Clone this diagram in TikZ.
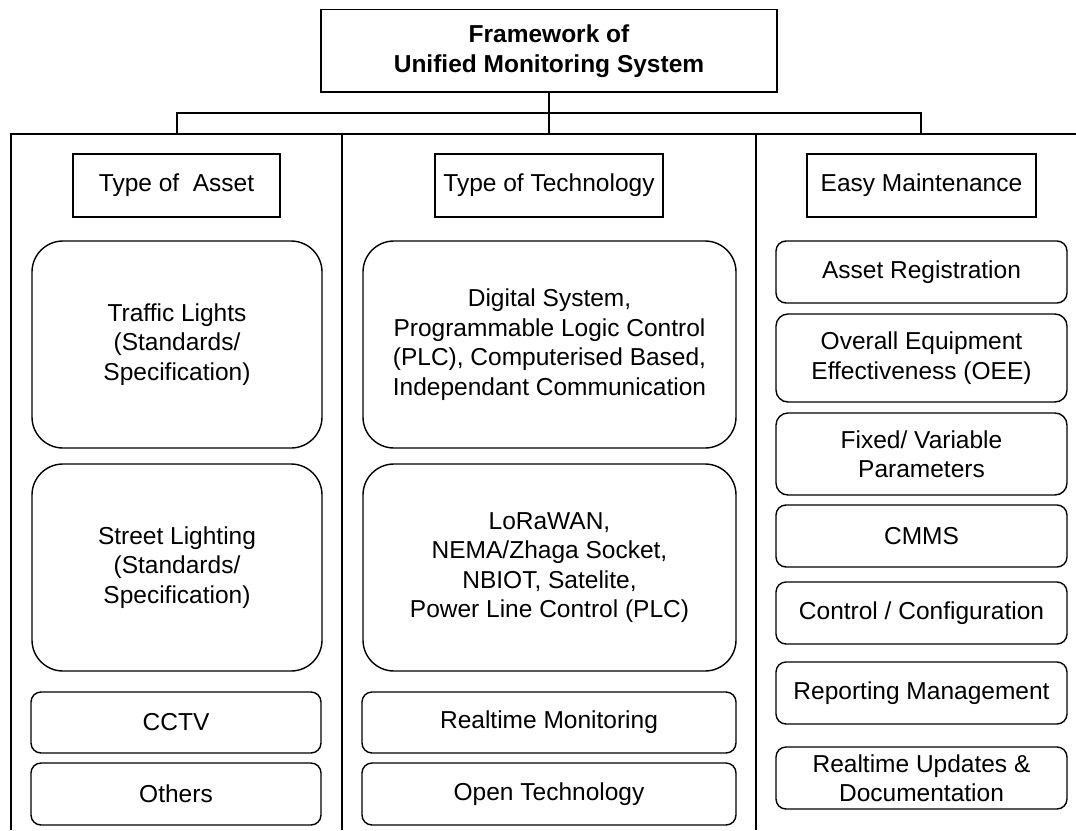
\documentclass[tikz,border=0pt]{standalone}
\usepackage{fontspec}
\setmainfont{Liberation Sans}
\begin{document}
\begin{tikzpicture}[x=1pt,y=-1pt,
  every node/.style={font={\fontsize{24.5pt}{29.5pt}\selectfont}, align=center, inner sep=2pt},
  frame/.style={line width=1.4pt},
  sqbox/.style={draw, line width=1.4pt, rectangle, minimum height=63pt},
  bigbox/.style={draw, line width=1.4pt, rectangle, rounded corners=31pt, minimum width=#1, minimum height=207pt},
  smallbox/.style={draw, line width=1.4pt, rectangle, rounded corners=10pt, minimum width=#1}
]
\useasboundingbox (0,0) rectangle (1076,830);

% title
\node[sqbox, minimum width=456pt, minimum height=82.5pt, font={\fontsize{24.5pt}{30pt}\selectfont\bfseries}] (top) at (549,50.75) {Framework of\\Unified Monitoring System};

% column frame
\coordinate (cL) at (177,134);
\coordinate (cM) at (549,134);
\coordinate (cR) at (921,134);
\coordinate (busL) at (177,113);
\coordinate (busR) at (921,113);
\draw[frame] (top.south) -- (cM);
\draw[frame] (cL) -- (busL) -- (busR) -- (cR);
\draw[frame] (11,830) -- (11,134) -- (1076,134);
\draw[frame] (342,134) -- (342,830);
\draw[frame] (756,134) -- (756,830);

% headers
\node[sqbox, minimum width=207pt] (hasset) at (176.5,185.5) {Type of~ Asset};
\node[sqbox, minimum width=228pt] (htech) at (549,185.5) {Type of Technology};
\node[sqbox, minimum width=229pt] (heasy) at (921.5,185.5) {Easy Maintenance};

% left column
\node[bigbox=290pt] (traffic) at (177,344.5) {Traffic Lights\\(Standards/\\Specification)};
\node[bigbox=290pt] (street) at (177,567.5) {Street Lighting\\(Standards/\\Specification)};
\node[smallbox=290pt, minimum height=61pt] (cctv) at (176,722.5) {CCTV};
\node[smallbox=290pt, minimum height=62pt] (others) at (176,794) {Others};

% middle column
\node[bigbox=373pt] (digital) at (549.5,344.5) {Digital System,\\Programmable Logic Control\\(PLC), Computerised Based,\\Independant Communication};
\node[bigbox=373pt] (lora) at (549.5,567.5) {LoRaWAN,\\NEMA/Zhaga Socket,\\NBIOT, Satelite,\\Power Line Control (PLC)};
\node[smallbox=374pt, minimum height=61pt] (rtmon) at (549,722.5) {Realtime Monitoring};
\node[smallbox=374pt, minimum height=62pt] (opentech) at (549,794) {Open Technology};

% right column
\node[smallbox=291pt, minimum height=62pt] (assetreg) at (921.5,272) {Asset Registration};
\node[smallbox=291pt, minimum height=88pt, rounded corners=12pt] (oee) at (921.5,358) {Overall Equipment\\Effectiveness (OEE)};
\node[smallbox=291pt, minimum height=82pt, rounded corners=12pt] (fixed) at (921.5,454) {Fixed/ Variable\\Parameters};
\node[smallbox=291pt, minimum height=62pt] (cmms) at (921.5,536) {CMMS};
\node[smallbox=291pt, minimum height=62pt] (control) at (921.5,613) {Control / Configuration};
\node[smallbox=291pt, minimum height=62pt] (report) at (921.5,693) {Reporting Management};
\node[smallbox=291pt, minimum height=62pt] (rtupd) at (921.5,778) {Realtime Updates \&\\Documentation};
\end{tikzpicture}
\end{document}
